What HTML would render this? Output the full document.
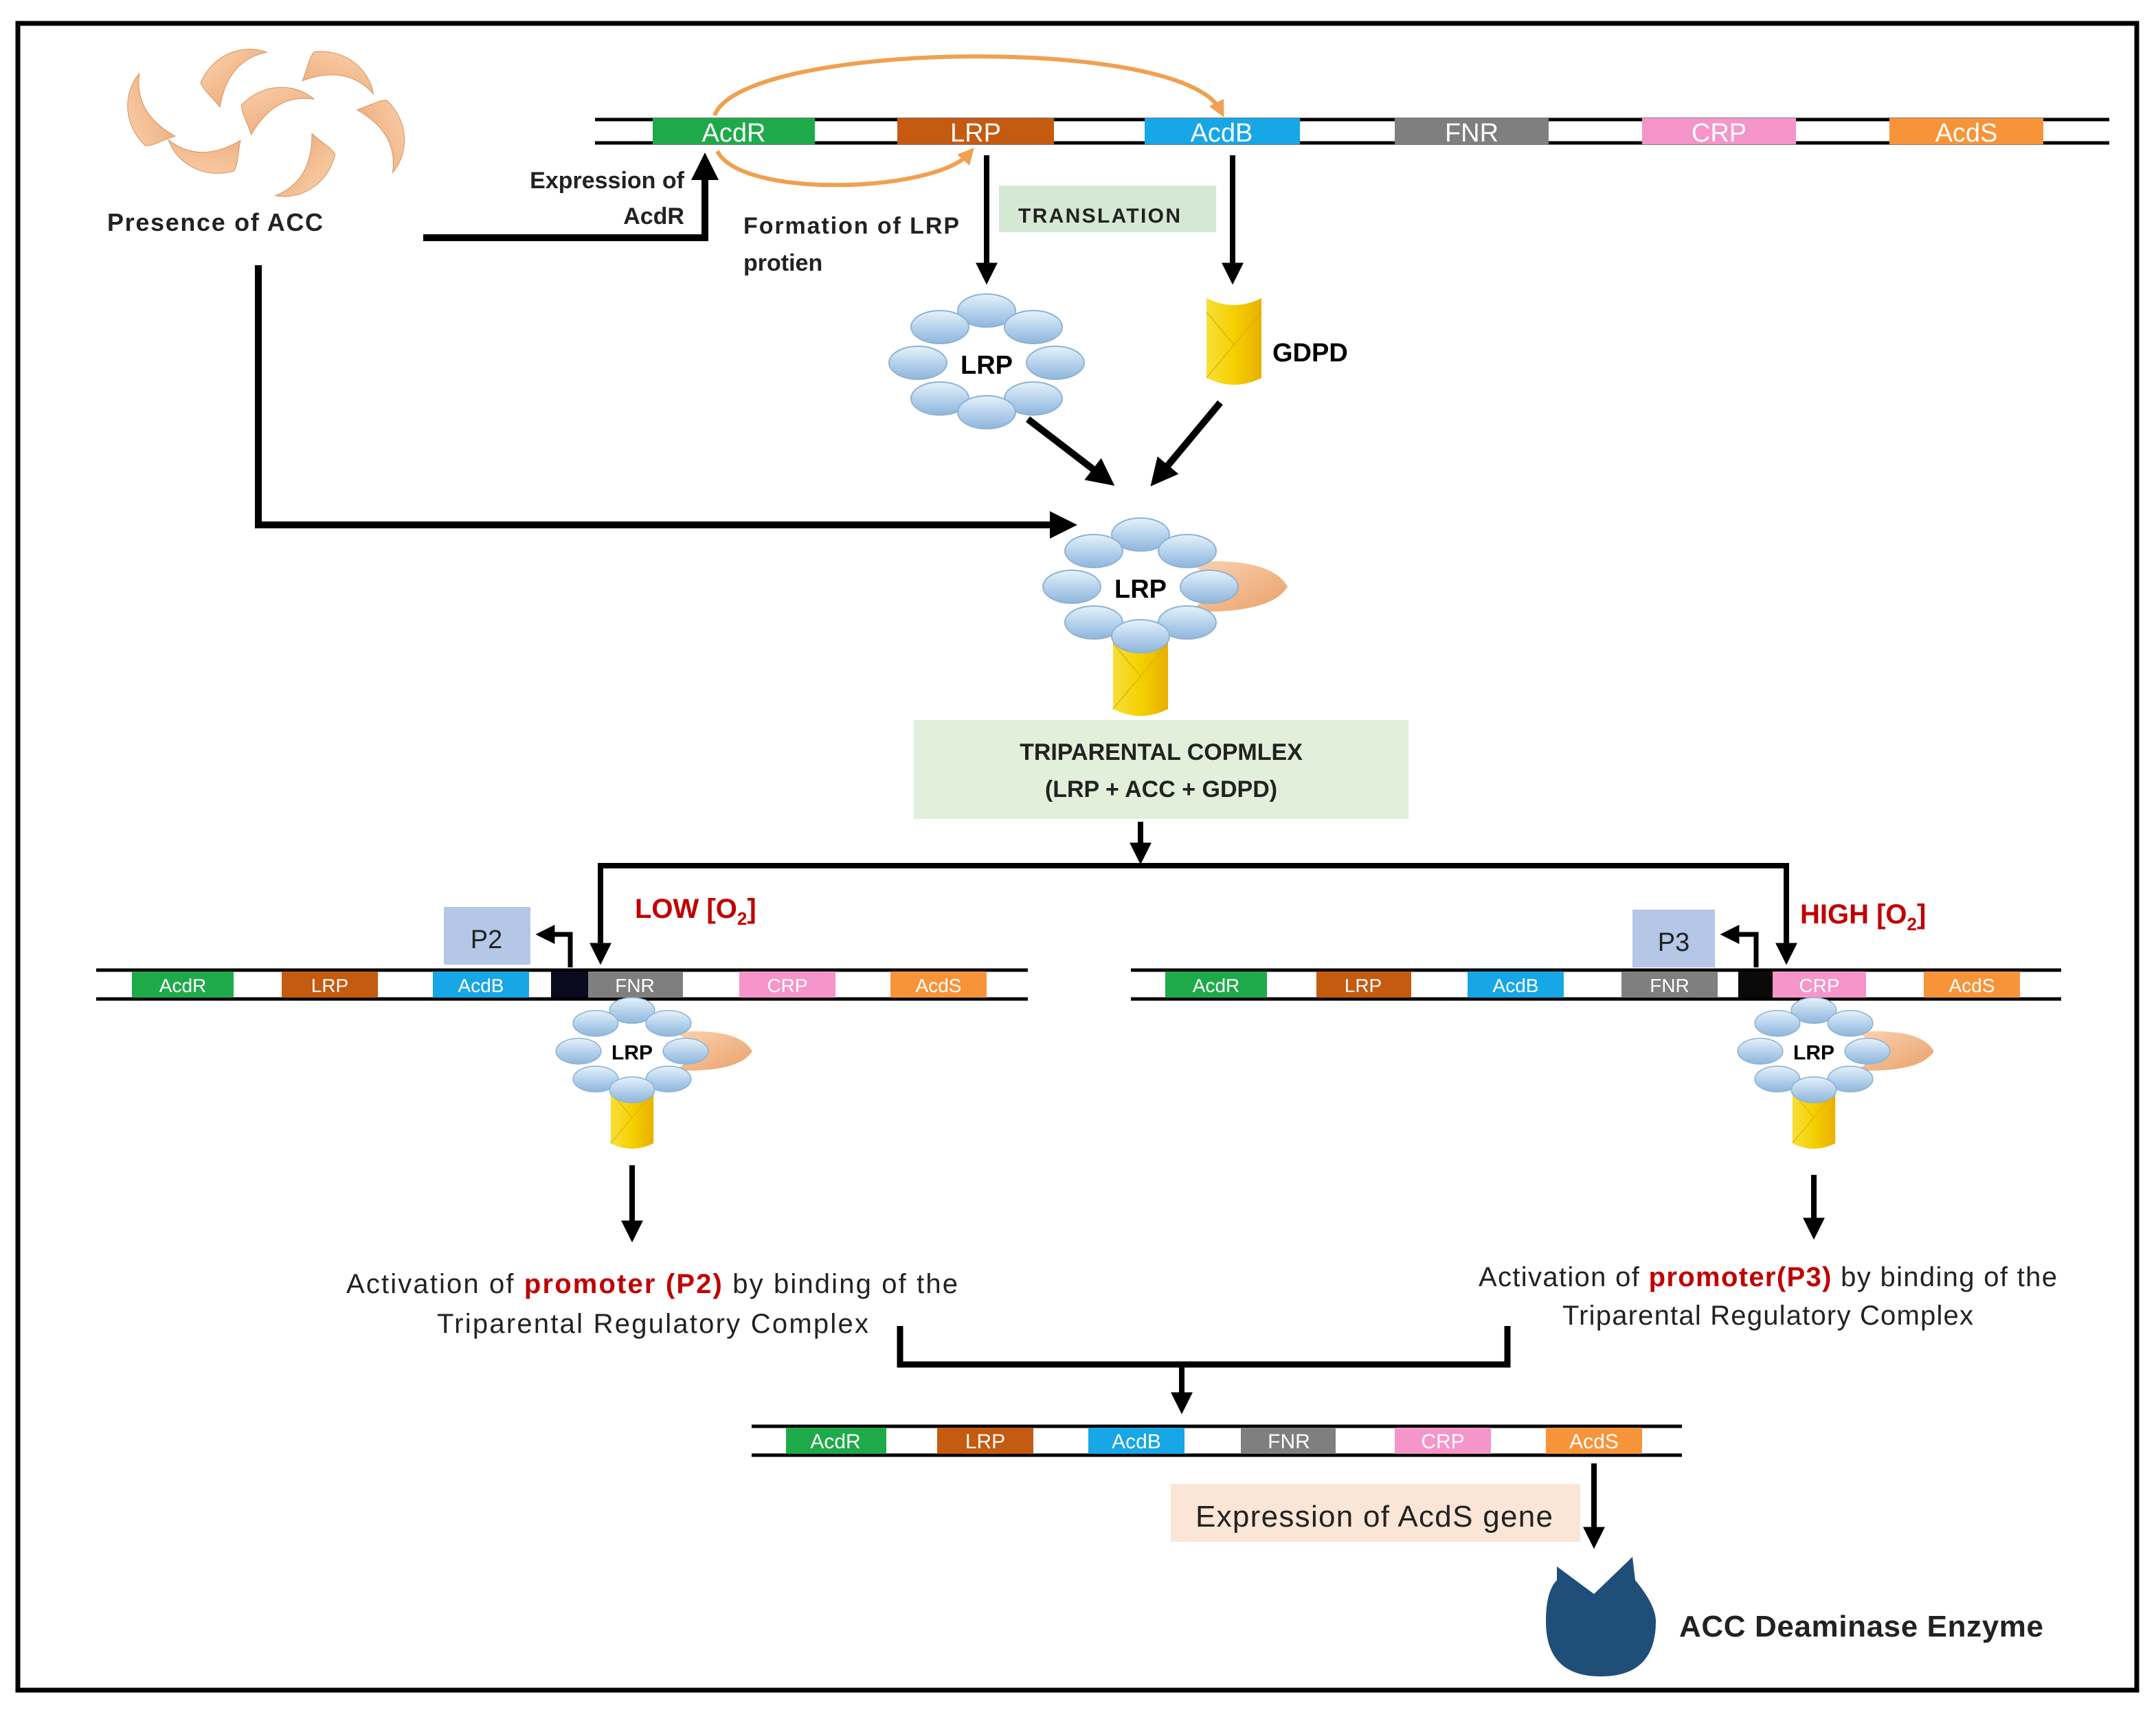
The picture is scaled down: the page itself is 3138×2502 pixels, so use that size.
<!DOCTYPE html>
<html><head><meta charset="utf-8"><style>
html,body{margin:0;padding:0;background:#fff}
svg{display:block}
text{font-family:"Liberation Sans",sans-serif}
</style></head><body>
<svg width="3138" height="2502" viewBox="0 0 1569 1251" xmlns="http://www.w3.org/2000/svg">
<defs>
<linearGradient id="bead" x1="0" y1="0" x2="0" y2="1">
<stop offset="0" stop-color="#e6f2fb"/><stop offset="0.5" stop-color="#b7d3ec"/><stop offset="1" stop-color="#8fb6dc"/></linearGradient>
<linearGradient id="cyl" x1="0" y1="0" x2="1" y2="0">
<stop offset="0" stop-color="#f7df3a"/><stop offset="0.5" stop-color="#f5d000"/><stop offset="1" stop-color="#e8b000"/></linearGradient>
<linearGradient id="acc" x1="0" y1="0" x2="1" y2="1">
<stop offset="0" stop-color="#fbd3b0"/><stop offset="1" stop-color="#e9a06a"/></linearGradient>
<g id="ring">
<ellipse cx="0" cy="-38" rx="21" ry="12" fill="url(#bead)" stroke="#8eb2d3"/>
<ellipse cx="-34" cy="-26" rx="21" ry="12" fill="url(#bead)" stroke="#8eb2d3"/>
<ellipse cx="34" cy="-26" rx="21" ry="12" fill="url(#bead)" stroke="#8eb2d3"/>
<ellipse cx="-50" cy="0" rx="21" ry="12" fill="url(#bead)" stroke="#8eb2d3"/>
<ellipse cx="50" cy="0" rx="21" ry="12" fill="url(#bead)" stroke="#8eb2d3"/>
<ellipse cx="-34" cy="26" rx="21" ry="12" fill="url(#bead)" stroke="#8eb2d3"/>
<ellipse cx="34" cy="26" rx="21" ry="12" fill="url(#bead)" stroke="#8eb2d3"/>
<ellipse cx="0" cy="36" rx="21" ry="12" fill="url(#bead)" stroke="#8eb2d3"/>
</g>
<g id="cyln">
<path d="M-20,0 L-20,58 Q0,68 20,58 L20,0 Q0,10 -20,0Z" fill="url(#cyl)"/>
<path d="M-20,10 L0,34 L20,10 M0,34 L-20,58" stroke="#e0a800" stroke-width="1" fill="none" opacity="0.6"/>
</g>
<g id="cres"><path d="M0,-18 Q60,-22 72,0 Q60,20 0,18 Q30,0 0,-18Z" fill="url(#acc)"/></g>
<g id="crs2"><path d="M0,0 C10,-22 32,-28 48,-22 C30,-18 18,-6 14,18 C8,10 2,6 0,0Z" fill="url(#acc)" stroke="#d9935c" stroke-width="0.5"/></g>
<marker id="ah" markerWidth="4" markerHeight="4" refX="2.2" refY="2" orient="auto"><path d="M0,0 L4,2 L0,4 Z" fill="#000"/></marker>
<marker id="oh" markerWidth="4" markerHeight="4" refX="2" refY="2" orient="auto"><path d="M0,0 L4,2 L0,4 Z" fill="#f0a050"/></marker>
</defs>
<rect x="13" y="17" width="1542" height="1213" fill="#fff" stroke="#000" stroke-width="3.5"/>

<use href="#crs2" x="146" y="60"/>
<use href="#crs2" x="210" y="50" transform="rotate(60 230 60)"/>
<use href="#crs2" x="250" y="85" transform="rotate(110 270 90)"/>
<use href="#crs2" x="215" y="125" transform="rotate(170 230 120)"/>
<use href="#crs2" x="150" y="125" transform="rotate(230 160 120)"/>
<use href="#crs2" x="100" y="82" transform="rotate(290 120 90)"/>
<use href="#crs2" x="172" y="82" transform="rotate(20 190 90)"/>
<text x="78" y="168" font-size="18" font-weight="bold" fill="#222" textLength="157">Presence of ACC</text>

<line x1="433" y1="87" x2="1535" y2="87" stroke="#000" stroke-width="2.5"/>
<line x1="433" y1="104" x2="1535" y2="104" stroke="#000" stroke-width="2.5"/>
<g font-size="19" fill="#fff" text-anchor="middle">
<rect x="475" y="86" width="118" height="19" fill="#1faa4a"/><text x="534" y="103">AcdR</text>
<rect x="653" y="86" width="114" height="19" fill="#c55a11"/><text x="710" y="103">LRP</text>
<rect x="833" y="86" width="113" height="19" fill="#17a6e6"/><text x="889" y="103">AcdB</text>
<rect x="1015" y="86" width="112" height="19" fill="#7f7f7f"/><text x="1071" y="103">FNR</text>
<rect x="1195" y="86" width="112" height="19" fill="#f595c9"/><text x="1251" y="103">CRP</text>
<rect x="1375" y="86" width="112" height="19" fill="#f7943a"/><text x="1431" y="103">AcdS</text>
</g>
<path d="M520,84 C540,30 860,25 888,80" fill="none" stroke="#f0a050" stroke-width="3" marker-end="url(#oh)"/>
<path d="M522,110 C540,145 680,140 705,112" fill="none" stroke="#f0a050" stroke-width="3" marker-end="url(#oh)"/>

<path d="M308,173 H513 V120" fill="none" stroke="#000" stroke-width="5" marker-end="url(#ah)"/>
<g font-size="17" font-weight="bold" fill="#222">
<text x="498" y="137" text-anchor="end">Expression of</text>
<text x="498" y="163" text-anchor="end">AcdR</text>
<text x="541" y="170" textLength="157">Formation of LRP</text>
<text x="541" y="197">protien</text>
</g>
<rect x="727" y="135" width="158" height="34" fill="#d5e8d4"/>
<text x="741" y="162" font-size="15" font-weight="bold" fill="#222" textLength="118">TRANSLATION</text>

<line x1="718" y1="113" x2="718" y2="200" stroke="#000" stroke-width="4" marker-end="url(#ah)"/>
<line x1="897" y1="113" x2="897" y2="200" stroke="#000" stroke-width="4" marker-end="url(#ah)"/>
<use href="#ring" x="718" y="264"/>
<text x="718" y="272" font-size="19" font-weight="bold" text-anchor="middle">LRP</text>
<use href="#cyln" x="898" y="217"/>
<text x="926" y="263" font-size="19" font-weight="bold">GDPD</text>
<line x1="748" y1="305" x2="804" y2="348" stroke="#000" stroke-width="5" marker-end="url(#ah)"/>
<line x1="888" y1="293" x2="843" y2="347" stroke="#000" stroke-width="5" marker-end="url(#ah)"/>
<path d="M188,193 V382 H775" fill="none" stroke="#000" stroke-width="5" marker-end="url(#ah)"/>

<use href="#cres" x="865" y="427"/>
<use href="#cyln" x="830" y="458"/>
<use href="#ring" x="830" y="427"/>
<text x="830" y="435" font-size="19" font-weight="bold" text-anchor="middle">LRP</text>

<rect x="665" y="524" width="360" height="72" fill="#e2efda"/>
<text x="845" y="553" font-size="17" font-weight="bold" text-anchor="middle" fill="#222">TRIPARENTAL COPMLEX</text>
<text x="845" y="580" font-size="17" font-weight="bold" text-anchor="middle" fill="#222">(LRP + ACC + GDPD)</text>
<line x1="830" y1="598" x2="830" y2="622" stroke="#000" stroke-width="4" marker-end="url(#ah)"/>
<path d="M437,693 V630 H1300 V693" fill="none" stroke="#000" stroke-width="4"/>
<line x1="437" y1="660" x2="437" y2="695" stroke="#000" stroke-width="4" marker-end="url(#ah)"/>
<line x1="1300" y1="660" x2="1300" y2="695" stroke="#000" stroke-width="4" marker-end="url(#ah)"/>
<text x="462" y="668" font-size="20" font-weight="bold" fill="#c00000">LOW [O<tspan font-size="13" dy="5">2</tspan><tspan dy="-5">]</tspan></text>
<text x="1310" y="672" font-size="20" font-weight="bold" fill="#c00000">HIGH [O<tspan font-size="13" dy="5">2</tspan><tspan dy="-5">]</tspan></text>

<rect x="323" y="660" width="63" height="42" fill="#b4c7e7"/>
<text x="354" y="690" font-size="19" text-anchor="middle" fill="#222">P2</text>
<path d="M415,704 V680 H396" fill="none" stroke="#000" stroke-width="3.5" marker-end="url(#ah)"/>
<line x1="70" y1="706" x2="748" y2="706" stroke="#000" stroke-width="2.5"/>
<line x1="70" y1="727" x2="748" y2="727" stroke="#000" stroke-width="2.5"/>
<g font-size="14" fill="#fff" text-anchor="middle">
<rect x="96" y="707" width="74" height="19" fill="#1faa4a"/><text x="133" y="722">AcdR</text>
<rect x="205" y="707" width="70" height="19" fill="#c55a11"/><text x="240" y="722">LRP</text>
<rect x="315" y="707" width="70" height="19" fill="#17a6e6"/><text x="350" y="722">AcdB</text>
<rect x="401" y="707" width="27" height="19" fill="#0a0a1e"/>
<rect x="428" y="707" width="69" height="19" fill="#7f7f7f"/><text x="462" y="722">FNR</text>
<rect x="538" y="707" width="70" height="19" fill="#f595c9"/><text x="573" y="722">CRP</text>
<rect x="648" y="707" width="70" height="19" fill="#f7943a"/><text x="683" y="722">AcdS</text>
</g>
<g transform="translate(460,765) scale(0.78)"><use href="#cres" x="40" y="0"/><use href="#cyln" x="0" y="28"/><use href="#ring"/></g>
<text x="460" y="771" font-size="15" font-weight="bold" text-anchor="middle">LRP</text>
<line x1="460" y1="848" x2="460" y2="897" stroke="#000" stroke-width="4" marker-end="url(#ah)"/>
<text x="252" y="941" font-size="20" fill="#222" textLength="445">Activation of <tspan fill="#c00000" font-weight="bold">promoter (P2)</tspan> by binding of the</text>
<text x="318" y="970" font-size="20" fill="#222" textLength="314">Triparental Regulatory Complex</text>

<rect x="1188" y="662" width="60" height="42" fill="#b4c7e7"/>
<text x="1218" y="692" font-size="19" text-anchor="middle" fill="#222">P3</text>
<path d="M1278,704 V680 H1258" fill="none" stroke="#000" stroke-width="3.5" marker-end="url(#ah)"/>
<line x1="823" y1="706" x2="1500" y2="706" stroke="#000" stroke-width="2.5"/>
<line x1="823" y1="727" x2="1500" y2="727" stroke="#000" stroke-width="2.5"/>
<g font-size="14" fill="#fff" text-anchor="middle">
<rect x="848" y="707" width="74" height="19" fill="#1faa4a"/><text x="885" y="722">AcdR</text>
<rect x="958" y="707" width="69" height="19" fill="#c55a11"/><text x="992" y="722">LRP</text>
<rect x="1068" y="707" width="70" height="19" fill="#17a6e6"/><text x="1103" y="722">AcdB</text>
<rect x="1180" y="707" width="70" height="19" fill="#7f7f7f"/><text x="1215" y="722">FNR</text>
<rect x="1265" y="707" width="25" height="19" fill="#0a0a0a"/>
<rect x="1290" y="707" width="68" height="19" fill="#f595c9"/><text x="1324" y="722">CRP</text>
<rect x="1400" y="707" width="70" height="19" fill="#f7943a"/><text x="1435" y="722">AcdS</text>
</g>
<g transform="translate(1320,765) scale(0.78)"><use href="#cres" x="40" y="0"/><use href="#cyln" x="0" y="28"/><use href="#ring"/></g>
<text x="1320" y="771" font-size="15" font-weight="bold" text-anchor="middle">LRP</text>
<line x1="1320" y1="855" x2="1320" y2="895" stroke="#000" stroke-width="4" marker-end="url(#ah)"/>
<text x="1076" y="936" font-size="20" fill="#222" textLength="421">Activation of <tspan fill="#c00000" font-weight="bold">promoter(P3)</tspan> by binding of the</text>
<text x="1137" y="964" font-size="20" fill="#222" textLength="299">Triparental Regulatory Complex</text>

<path d="M655,965 V993 H1097 V965" fill="none" stroke="#000" stroke-width="4.5"/>
<line x1="860" y1="993" x2="860" y2="1022" stroke="#000" stroke-width="4" marker-end="url(#ah)"/>

<line x1="547" y1="1038" x2="1224" y2="1038" stroke="#000" stroke-width="2.5"/>
<line x1="547" y1="1059" x2="1224" y2="1059" stroke="#000" stroke-width="2.5"/>
<g font-size="15" fill="#fff" text-anchor="middle">
<rect x="572" y="1039" width="73" height="19" fill="#1faa4a"/><text x="608" y="1054">AcdR</text>
<rect x="682" y="1039" width="70" height="19" fill="#c55a11"/><text x="717" y="1054">LRP</text>
<rect x="792" y="1039" width="70" height="19" fill="#17a6e6"/><text x="827" y="1054">AcdB</text>
<rect x="903" y="1039" width="69" height="19" fill="#7f7f7f"/><text x="938" y="1054">FNR</text>
<rect x="1015" y="1039" width="70" height="19" fill="#f595c9"/><text x="1050" y="1054">CRP</text>
<rect x="1125" y="1039" width="70" height="19" fill="#f7943a"/><text x="1160" y="1054">AcdS</text>
</g>
<rect x="852" y="1080" width="298" height="42" fill="#fbe5d6"/>
<text x="870" y="1111" font-size="22" fill="#222" textLength="260">Expression of AcdS gene</text>
<line x1="1160" y1="1065" x2="1160" y2="1120" stroke="#000" stroke-width="4" marker-end="url(#ah)"/>
<path d="M1133,1140 L1160,1160 L1188,1133 L1190,1150 Q1205,1168 1205,1180 Q1205,1220 1165,1220 Q1125,1220 1125,1180 Q1125,1158 1133,1150 Z" fill="#1f4e79"/>
<text x="1222" y="1191" font-size="22" font-weight="bold" fill="#222" textLength="265">ACC Deaminase Enzyme</text>
</svg>
</body></html>
